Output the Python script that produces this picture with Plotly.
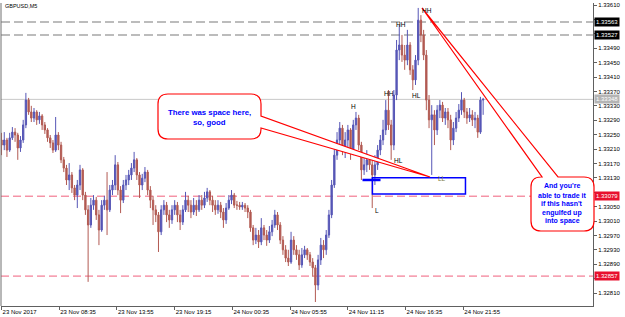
import plotly.graph_objects as go
import pandas as pd

# ---------------- data ----------------
symbol_label = "GBPUSD,M5"
bar_times = pd.date_range("2017-11-23 03:15", periods=179, freq="15min")
first_open = 1.33235
close = [
    1.33221, 1.33235, 1.33207, 1.33241, 1.33257, 1.33249, 1.33213, 1.33235, 1.33277, 1.33346,
    1.33313, 1.33296, 1.33313, 1.33291, 1.33302, 1.33277, 1.33263, 1.33241, 1.33227, 1.33207,
    1.33249, 1.33221, 1.33180, 1.33157, 1.33124, 1.33138, 1.33102, 1.33082, 1.33110, 1.33152,
    1.33082, 1.33041, 1.32999, 1.33054, 1.33068, 1.33027, 1.32985, 1.33054, 1.33068, 1.33041,
    1.33096, 1.33110, 1.33166, 1.33096, 1.33068, 1.33110, 1.33124, 1.33138, 1.33157, 1.33180,
    1.33138, 1.33110, 1.33129, 1.33146, 1.33096, 1.33068, 1.33041, 1.33027, 1.32980, 1.33041,
    1.33054, 1.33027, 1.33013, 1.33041, 1.33054, 1.33027, 1.33007, 1.33041, 1.33068, 1.33054,
    1.33035, 1.33054, 1.33041, 1.33068, 1.33054, 1.33074, 1.33091, 1.33068, 1.33054, 1.33041,
    1.33054, 1.33035, 1.33013, 1.33046, 1.33068, 1.33082, 1.33054, 1.33054, 1.33049, 1.33054,
    1.33046, 1.33035, 1.32991, 1.32957, 1.32971, 1.32952, 1.32991, 1.32971, 1.32957, 1.32980,
    1.32999, 1.33027, 1.32999, 1.32957, 1.32930, 1.32907, 1.32896, 1.32957, 1.32930, 1.32916,
    1.32888, 1.32916, 1.32930, 1.32916, 1.32896, 1.32880, 1.32832, 1.32902, 1.32943, 1.32930,
    1.32971, 1.33027, 1.33110, 1.33193, 1.33235, 1.33268, 1.33207, 1.33235, 1.33263, 1.33207,
    1.33277, 1.33296, 1.33221, 1.33152, 1.33166, 1.33180, 1.33166, 1.33138, 1.33166, 1.33207,
    1.33235, 1.33263, 1.33318, 1.33277, 1.33221, 1.33360, 1.33485, 1.33499, 1.33471, 1.33457,
    1.33499, 1.33430, 1.33402, 1.33457, 1.33568, 1.33527, 1.33471, 1.33346, 1.33291, 1.33305,
    1.33263, 1.33318, 1.33332, 1.33296, 1.33313, 1.33291, 1.33235, 1.33268, 1.33296, 1.33318,
    1.33346, 1.33313, 1.33296, 1.33305, 1.33291, 1.33296, 1.33257, 1.33346, 1.33348,
]
high = [
    1.33255, 1.33257, 1.33241, 1.33255, 1.33271, 1.33268, 1.33255, 1.33246, 1.33291, 1.33366,
    1.33352, 1.33330, 1.33324, 1.33318, 1.33313, 1.33307, 1.33285, 1.33268, 1.33249, 1.33235,
    1.33299, 1.33257, 1.33230, 1.33188, 1.33166, 1.33171, 1.33146, 1.33110, 1.33124, 1.33166,
    1.33157, 1.33091, 1.33054, 1.33074, 1.33082, 1.33077, 1.33041, 1.33068, 1.33080, 1.33146,
    1.33110, 1.33124, 1.33193, 1.33174, 1.33107, 1.33124, 1.33138, 1.33152, 1.33171, 1.33202,
    1.33185, 1.33146, 1.33141, 1.33160, 1.33152, 1.33107, 1.33080, 1.33054, 1.33035, 1.33054,
    1.33068, 1.33063, 1.33041, 1.33054, 1.33068, 1.33063, 1.33041, 1.33054, 1.33091, 1.33080,
    1.33068, 1.33074, 1.33068, 1.33082, 1.33082, 1.33091, 1.33102, 1.33096, 1.33080, 1.33068,
    1.33068, 1.33063, 1.33046, 1.33060, 1.33082, 1.33096, 1.33088, 1.33066, 1.33063, 1.33063,
    1.33060, 1.33054, 1.33041, 1.32999, 1.32991, 1.32985, 1.33018, 1.32999, 1.32985, 1.32996,
    1.33013, 1.33041, 1.33035, 1.33007, 1.32968, 1.32943, 1.32930, 1.32980, 1.32968, 1.32943,
    1.32930, 1.32935, 1.32941, 1.32935, 1.32924, 1.32907, 1.32888, 1.32916, 1.32963, 1.32957,
    1.32985, 1.33041, 1.33124, 1.33213, 1.33257, 1.33285, 1.33277, 1.33257, 1.33277, 1.33268,
    1.33291, 1.33313, 1.33305, 1.33230, 1.33193, 1.33207, 1.33193, 1.33180, 1.33193, 1.33221,
    1.33249, 1.33291, 1.33346, 1.33374, 1.33291, 1.33374, 1.33513, 1.33555, 1.33527, 1.33499,
    1.33541, 1.33507, 1.33443, 1.33471, 1.33602, 1.33582, 1.33541, 1.33485, 1.33360, 1.33332,
    1.33318, 1.33332, 1.33346, 1.33341, 1.33324, 1.33324, 1.33305, 1.33285, 1.33313, 1.33335,
    1.33368, 1.33352, 1.33324, 1.33324, 1.33318, 1.33313, 1.33305, 1.33355, 1.33352,
]
low = [
    1.33193, 1.33207, 1.33188, 1.33202, 1.33235, 1.33230, 1.33180, 1.33202, 1.33227, 1.33268,
    1.33305, 1.33285, 1.33285, 1.33277, 1.33280, 1.33263, 1.33252, 1.33230, 1.33213, 1.33199,
    1.33202, 1.33207, 1.33171, 1.33146, 1.33110, 1.33096, 1.33088, 1.33068, 1.33046, 1.33096,
    1.33068, 1.33027, 1.32841, 1.32991, 1.33041, 1.33013, 1.32943, 1.32980, 1.33041, 1.32971,
    1.33035, 1.33082, 1.33096, 1.33082, 1.33032, 1.33060, 1.33096, 1.33110, 1.33124, 1.33146,
    1.33124, 1.33074, 1.33096, 1.33118, 1.33082, 1.33046, 1.32999, 1.33007, 1.32924, 1.32971,
    1.33027, 1.33007, 1.32991, 1.33002, 1.33027, 1.33007, 1.32985, 1.32999, 1.33035, 1.33035,
    1.33018, 1.33027, 1.33024, 1.33035, 1.33041, 1.33046, 1.33063, 1.33054, 1.33035, 1.33027,
    1.33030, 1.33018, 1.32991, 1.33002, 1.33041, 1.33057, 1.33046, 1.33041, 1.33041, 1.33041,
    1.33035, 1.33018, 1.32980, 1.32943, 1.32946, 1.32935, 1.32943, 1.32957, 1.32941, 1.32949,
    1.32968, 1.32991, 1.32985, 1.32946, 1.32916, 1.32896, 1.32885, 1.32891, 1.32916, 1.32902,
    1.32874, 1.32880, 1.32907, 1.32902, 1.32885, 1.32855, 1.32785, 1.32818, 1.32888, 1.32907,
    1.32916, 1.32963, 1.33018, 1.33102, 1.33180, 1.33221, 1.33193, 1.33185, 1.33213, 1.33180,
    1.33193, 1.33263, 1.33207, 1.33124, 1.33138, 1.33146, 1.33152, 1.33046, 1.33110, 1.33152,
    1.33193, 1.33221, 1.33249, 1.33263, 1.33180, 1.33207, 1.33346, 1.33457, 1.33452, 1.33430,
    1.33443, 1.33416, 1.33374, 1.33388, 1.33443, 1.33507, 1.33457, 1.33318, 1.33268, 1.33138,
    1.33221, 1.33249, 1.33296, 1.33285, 1.33277, 1.33268, 1.33207, 1.33221, 1.33257, 1.33285,
    1.33305, 1.33296, 1.33280, 1.33285, 1.33274, 1.33268, 1.33241, 1.33252, 1.33305,
]
open_ = [first_open] + close[:-1]
high = [max(h, o, c) for h, o, c in zip(high, open_, close)]
low = [min(l, o, c) for l, o, c in zip(low, open_, close)]

grey_levels = [1.33563, 1.33527]
grey_labels = ["1.33563", "1.33527"]
bid_level = 1.33348
bid_label = "1.33348"
red_levels = [1.33079, 1.32857]
red_labels = ["1.33079", "1.32857"]

x_tickvals = ["2017-11-23 03:15", "2017-11-23 08:35", "2017-11-23 13:55", "2017-11-23 19:15",
              "2017-11-24 00:35", "2017-11-24 05:55", "2017-11-24 11:15", "2017-11-24 16:35",
              "2017-11-24 21:55"]
x_ticktext = ["23 Nov 2017", "23 Nov 08:35", "23 Nov 13:55", "23 Nov 19:15", "24 Nov 00:35",
              "24 Nov 05:55", "24 Nov 11:15", "24 Nov 16:35", "24 Nov 21:55"]
y_tickvals = [1.32810, 1.32850, 1.32890, 1.32930, 1.32970, 1.33010, 1.33050,
              1.33090, 1.33130, 1.33170, 1.33210, 1.33250, 1.33290, 1.33330,
              1.33370, 1.33410, 1.33450, 1.33490, 1.33530, 1.33570, 1.33610]
# ticks hidden under the level labels on the price scale carry no text
y_ticktext = ["1.32810", "", "1.32890", "1.32930", "1.32970", "1.33010", "1.33050",
              "", "1.33130", "1.33170", "1.33210", "1.33250", "1.33290", "1.33330",
              "1.33370", "1.33410", "1.33450", "1.33490", "", "", "1.33610"]

zone_x = ["2017-11-24 13:31", "2017-11-24 22:07"]
zone_y = [1.33085, 1.33130]
mark_x = ["2017-11-24 12:36", "2017-11-24 14:16"]
mark_y = 1.33124

# ---------------- figure ----------------
W, H = 625, 317
L, R, T, B = 1, 32, 3, 11
PW, PH = W - L - R, H - T - B


def px(x):
    return (x - L) / PW


def py(y):
    return (H - B - y) / PH


def path(cmds):
    out = []
    for c in cmds:
        if isinstance(c, str):
            out.append(c)
        else:
            out.append(f"{px(c[0]):.5f},{py(c[1]):.5f}")
    return " ".join(out)


UP = "#5656b6"
DN = "#b25a52"

fig = go.Figure()
fig.add_trace(go.Candlestick(
    x=bar_times, open=open_, high=high, low=low, close=close,
    increasing=dict(line=dict(color=UP, width=1), fillcolor=UP),
    decreasing=dict(line=dict(color=DN, width=1), fillcolor=DN),
    whiskerwidth=0, hoverinfo="skip", showlegend=False,
))

shapes = []
for lv in grey_levels:
    shapes.append(dict(type="line", xref="paper", x0=0, x1=1, yref="y", y0=lv, y1=lv,
                       line=dict(color="#a6a6a6", width=1.6, dash="9px,4px"), layer="below"))
shapes.append(dict(type="line", xref="paper", x0=0, x1=1, yref="y", y0=bid_level, y1=bid_level,
                   line=dict(color="#c8c8c8", width=1), layer="below"))
for lv in red_levels:
    shapes.append(dict(type="line", xref="paper", x0=0, x1=1, yref="y", y0=lv, y1=lv,
                       line=dict(color="#f0607c", width=1, dash="8px,4px"), layer="below"))
# left frame
shapes.append(dict(type="line", xref="paper", yref="paper", x0=0, x1=0, y0=0, y1=1,
                   line=dict(color="#707070", width=1)))
# blue zone + mark
shapes.append(dict(type="rect", xref="x", yref="y", x0=zone_x[0], x1=zone_x[1], y0=zone_y[0], y1=zone_y[1],
                   line=dict(color="#0000ff", width=1.5), fillcolor="rgba(0,0,0,0)", layer="above"))
shapes.append(dict(type="line", xref="x", yref="y", x0=mark_x[0], x1=mark_x[1], y0=mark_y, y1=mark_y,
                   line=dict(color="#0000ff", width=2.5), layer="above"))

# callout 1
l1, r1, t1, b1, rr = 158, 261, 94, 139, 10
c1 = path(["M", (l1 + rr, t1), "L", (r1 - rr, t1), "Q", (r1, t1), (r1, t1 + rr),
           "L", (r1, 116), "L", (430, 177), "L", (r1, 128),
           "L", (r1, b1 - rr), "Q", (r1, b1), (r1 - rr, b1), "L", (l1 + rr, b1),
           "Q", (l1, b1), (l1, b1 - rr), "L", (l1, t1 + rr), "Q", (l1, t1), (l1 + rr, t1), "Z"])
shapes.append(dict(type="path", xref="paper", yref="paper", path=c1, fillcolor="white",
                   line=dict(color="#ff0000", width=1.2), layer="above"))
# callout 2
l2, r2, t2, b2 = 531, 594, 177, 231
c2 = path(["M", (l2 + rr, t2), "L", (542, t2), "L", (422, 8), "L", (558, t2),
           "L", (r2 - rr, t2), "Q", (r2, t2), (r2, t2 + rr), "L", (r2, b2 - rr),
           "Q", (r2, b2), (r2 - rr, b2), "L", (l2 + rr, b2), "Q", (l2, b2), (l2, b2 - rr),
           "L", (l2, t2 + rr), "Q", (l2, t2), (l2 + rr, t2), "Z"])
shapes.append(dict(type="path", xref="paper", yref="paper", path=c2, fillcolor="white",
                   line=dict(color="#ff0000", width=1.2), layer="above"))

FONT = "Liberation Sans"
ann = []


def txt(x, y, s, size=6.5, color="black", bold=False, xanchor="center"):
    ann.append(dict(xref="paper", yref="paper", x=px(x), y=py(y), text=f"<b>{s}</b>" if bold else s,
                    showarrow=False, xanchor=xanchor, yanchor="middle",
                    font=dict(family=FONT, size=size, color=color)))


txt(3, 6, symbol_label, size=5.5, xanchor="left")
txt(210, 112, "There was space here,", size=7.8, color="#0000ff", bold=True)
txt(210, 122, "so, good", size=7.8, color="#0000ff", bold=True)
for yy, s in zip([186, 195, 203.5, 212.5, 221],
                 ["And you're", "able to trade it", "if this hasn't", "engulfed up", "into space"]):
    txt(562, yy, s, size=7, color="#0000ff", bold=True)
for (xx, yy, s) in [(353, 106.5, "H"), (389, 94, "HH"), (398, 160.5, "HL"), (401, 25, "HH"),
                    (416, 95, "HL"), (427, 10.5, "HH"), (376.5, 210.5, "L")]:
    txt(xx, yy, s, size=6.5)
txt(442, 178.5, "LL", size=6.5, color="#7a7a40")


def price_label(lv, s, bg, fg="white"):
    ann.append(dict(xref="paper", yref="y", x=px(594), y=lv, text=s, showarrow=False,
                    xanchor="left", yanchor="middle", bgcolor=bg, borderpad=1,
                    font=dict(family=FONT, size=6, color=fg)))


for lv, s in zip(grey_levels, grey_labels):
    price_label(lv, s, "#000000")
price_label(bid_level, bid_label, "#b4b4b4")
for lv, s in zip(red_levels, red_labels):
    price_label(lv, s, "#e8102e")

fig.update_layout(
    width=W, height=H, margin=dict(l=L, r=R, t=T, b=B, pad=0),
    paper_bgcolor="white", plot_bgcolor="white", showlegend=False,
    shapes=shapes, annotations=ann,
    xaxis=dict(type="date", range=["2017-11-23 03:12", "2017-11-25 09:54"],
               tickvals=x_tickvals, ticktext=x_ticktext, ticks="outside", ticklen=3,
               tickcolor="#606060", showline=True, linecolor="#606060", linewidth=1,
               showgrid=False, zeroline=False, rangeslider=dict(visible=False),
               ticklabelposition="outside right",
               tickfont=dict(family=FONT, size=6, color="black")),
    yaxis=dict(side="right", range=[1.327739, 1.336157], tickvals=y_tickvals, ticktext=y_ticktext,
               ticks="outside", ticklen=3, tickcolor="#606060", showline=True,
               linecolor="#606060", linewidth=1, showgrid=False, zeroline=False,
               tickfont=dict(family=FONT, size=6, color="black")),
)

fig.write_html("out.html", config={"displayModeBar": False})
